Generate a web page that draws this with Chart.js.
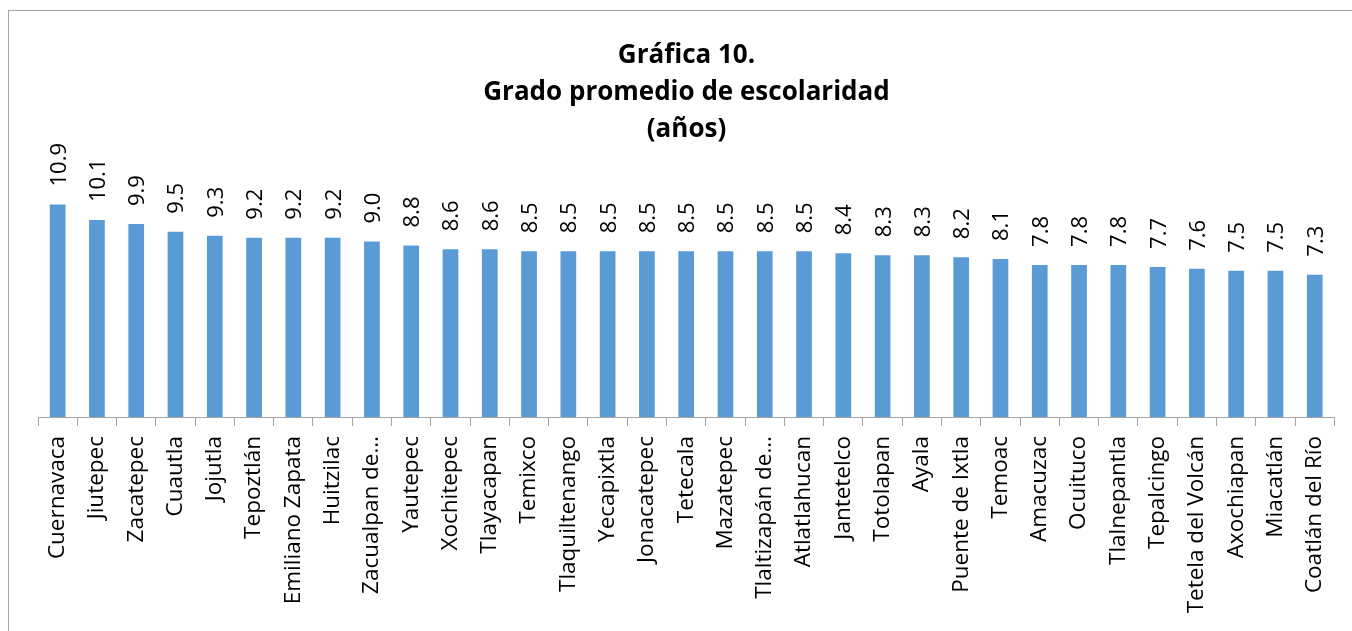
<!DOCTYPE html>
<html>
<head>
<meta charset="utf-8">
<script src="https://cdn.jsdelivr.net/npm/chart.js@4.4.0/dist/chart.umd.min.js"></script>
<style>
  html, body { margin: 0; padding: 0; background: #fff; }
  #wrap { width: 1352px; height: 631px; }
</style>
</head>
<body>
<div id="wrap"><canvas id="grafica10" width="1352" height="631"></canvas></div>
<script>
var municipios = ['Cuernavaca', 'Jiutepec', 'Zacatepec', 'Cuautla', 'Jojutla', 'Tepoztlán',
    'Emiliano Zapata', 'Huitzilac', 'Zacualpan de…', 'Yautepec', 'Xochitepec', 'Tlayacapan',
    'Temixco', 'Tlaquiltenango', 'Yecapixtla', 'Jonacatepec', 'Tetecala', 'Mazatepec',
    'Tlaltizapán de…', 'Atlatlahucan', 'Jantetelco', 'Totolapan', 'Ayala', 'Puente de Ixtla',
    'Temoac', 'Amacuzac', 'Ocuituco', 'Tlalnepantla', 'Tepalcingo', 'Tetela del Volcán',
    'Axochiapan', 'Miacatlán', 'Coatlán del Río'];
var escolaridad = [10.9, 10.1, 9.9, 9.5, 9.3, 9.2, 9.2, 9.2, 9.0, 8.8, 8.6, 8.6, 8.5, 8.5,
    8.5, 8.5, 8.5, 8.5, 8.5, 8.5, 8.4, 8.3, 8.3, 8.2, 8.1, 7.8, 7.8, 7.8, 7.7, 7.6, 7.5, 7.5, 7.3];
var titulo = ['Gráfica 10.', 'Grado promedio de escolaridad', '(años)'];

var fuente = "'Open Sans', 'Noto Sans', sans-serif";

// marco gris del grafico
var marco = {
    id: 'marco',
    beforeDraw: function (chart) {
        var ctx = chart.ctx;
        ctx.save();
        ctx.strokeStyle = '#a6a6a6';
        ctx.lineWidth = 1;
        ctx.strokeRect(8.5, 10.5, 3000, 3000);
        ctx.restore();
    }
};

// etiquetas de valor giradas sobre cada barra
var etiquetas = {
    id: 'etiquetas',
    afterDatasetsDraw: function (chart) {
        var ctx = chart.ctx;
        var meta = chart.getDatasetMeta(0);
        ctx.save();
        ctx.font = '22px ' + fuente;
        ctx.fillStyle = '#000';
        ctx.textAlign = 'left';
        ctx.textBaseline = 'alphabetic';
        meta.data.forEach(function (bar, i) {
            ctx.save();
            ctx.translate(bar.x, bar.y - 18);
            ctx.rotate(-Math.PI / 2);
            ctx.fillText(escolaridad[i].toFixed(1), 0, 8);
            ctx.restore();
        });
        ctx.restore();
    }
};

var chart = new Chart(document.getElementById('grafica10'), {
    type: 'bar',
    data: {
        labels: municipios,
        datasets: [{
            data: escolaridad,
            backgroundColor: '#5b9bd5',
            borderWidth: 0,
            barPercentage: 0.4,
            categoryPercentage: 1
        }]
    },
    options: {
        responsive: false,
        animation: false,
        layout: { padding: { left: 38, right: 17, top: 0, bottom: 0 } },
        plugins: {
            legend: { display: false },
            tooltip: { enabled: false },
            title: {
                display: true,
                text: titulo,
                color: '#000',
                font: { family: fuente, size: 26, weight: 'bold', lineHeight: 1.423 },
                padding: { top: 37, bottom: 0 }
            }
        },
        scales: {
            x: {
                grid: {
                    display: true,
                    drawOnChartArea: false,
                    drawTicks: true,
                    tickLength: 9,
                    color: '#a6a6a6',
                    offset: true
                },
                border: { display: true, color: '#a6a6a6', width: 1 },
                ticks: {
                    autoSkip: false,
                    minRotation: 90,
                    maxRotation: 90,
                    padding: 10,
                    color: '#000',
                    font: { family: fuente, size: 22.5 }
                },
                afterFit: function (scale) { scale.height = 214; }
            },
            y: {
                display: false,
                min: 0,
                max: 13.8
            }
        }
    },
    plugins: [marco, etiquetas]
});
</script>
</body>
</html>
